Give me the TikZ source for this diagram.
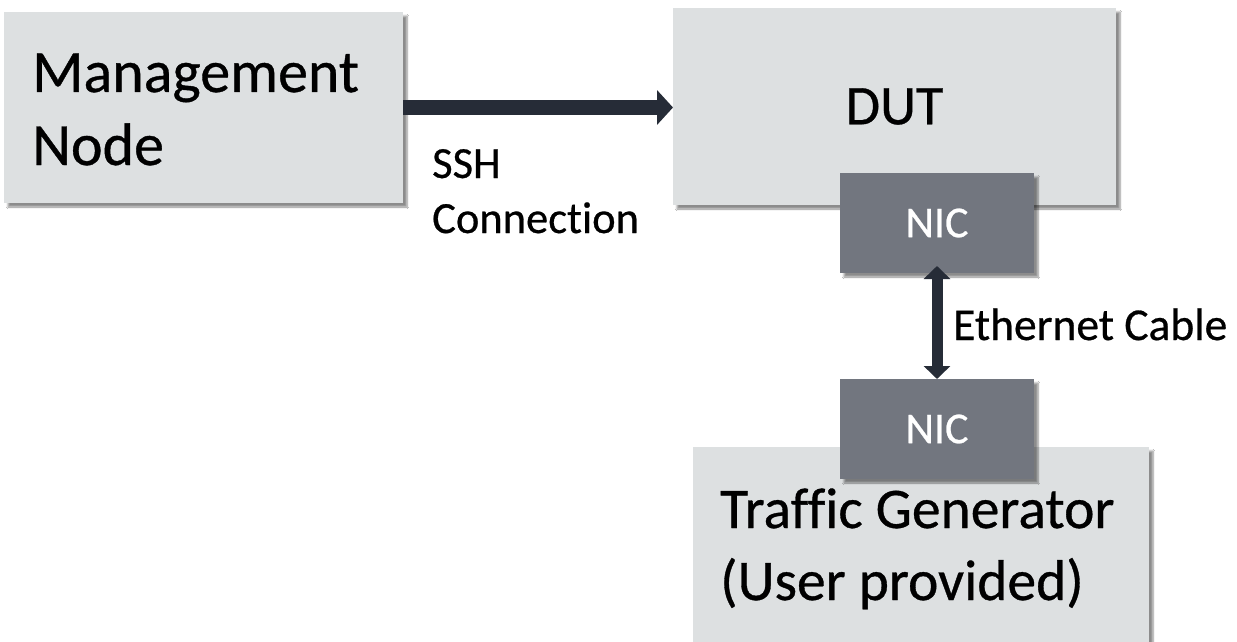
\documentclass[tikz,border=0pt]{standalone}
\usepackage{fontspec}
\setmainfont{Carlito}[Ligatures=NoCommon,FakeBold=0.6,BoldFont={Carlito}]
\usetikzlibrary{arrows.meta,shadows.blur}
\definecolor{boxgray}{HTML}{DDE0E1}
\definecolor{nicgray}{HTML}{72767F}
\definecolor{arrowdark}{HTML}{262C37}
\begin{document}
\begin{tikzpicture}[x=1pt,y=-1pt,
  shade/.style={blur shadow={shadow xshift=4pt,shadow yshift=-4pt,shadow blur steps=6,shadow opacity=45}},
  box/.style={shade,draw=none,fill=boxgray,inner sep=0pt,outer sep=0pt,anchor=north west},
  nic/.style={shade,draw=none,fill=nicgray,inner sep=0pt,outer sep=0pt,anchor=north west,
    minimum width=194pt,minimum height=100pt,text=white,font=\fontsize{44}{52}\selectfont},
  bigtext/.style={anchor=base west,inner sep=0pt,font=\fontsize{60}{73}\selectfont},
  smalltext/.style={anchor=base west,inner sep=0pt,font=\fontsize{45.5}{55}\selectfont},
  conn/.style={draw=arrowdark,line width=15pt}]
\useasboundingbox (0,0) rectangle (1237,642);
\clip (0,0) rectangle (1237,642);
\fill[white] (0,0) rectangle (1237,642);
% boxes
\node[box,minimum width=399pt,minimum height=191pt] (mgmt) at (4,12) {};
\node[box,minimum width=443pt,minimum height=197pt,font=\fontsize{56}{72}\selectfont] (dut) at (673,8) {DUT};
\node[box,minimum width=456pt,minimum height=260pt] (tg) at (693,447) {};
\node[nic] (nic1) at (840,173) {NIC};
\node[nic] (nic2) at (840,379) {NIC};
% texts
\node[bigtext] (mgmt1) at (32,92) {Management};
\node[bigtext] (mgmt2) at (32,165) {Node};
\node[bigtext,font=\fontsize{57.5}{72}\selectfont] (tg1) at (720,528) {Traffic Generator};
\node[bigtext,font=\fontsize{57.5}{72}\selectfont] (tg2) at (720,600) {(User provided)};
\node[smalltext,font=\fontsize{44.5}{55}\selectfont] (ssh1) at (432,178) {SSH};
\node[smalltext,font=\fontsize{44.5}{55}\selectfont] (ssh2) at (432,233) {Connection};
\node[smalltext] (eth) at (953,340) {Ethernet Cable};
% connectors
\draw[conn,-{Triangle[width=34pt,length=16pt]}] (mgmt.east) -- (mgmt.east -| dut.west);
\draw[conn,line width=11pt,{Triangle[width=26pt,length=13pt]}-{Triangle[width=26pt,length=13pt]}]
  ([yshift=7pt]nic1.south) -- (nic2.north);
\end{tikzpicture}
\end{document}
